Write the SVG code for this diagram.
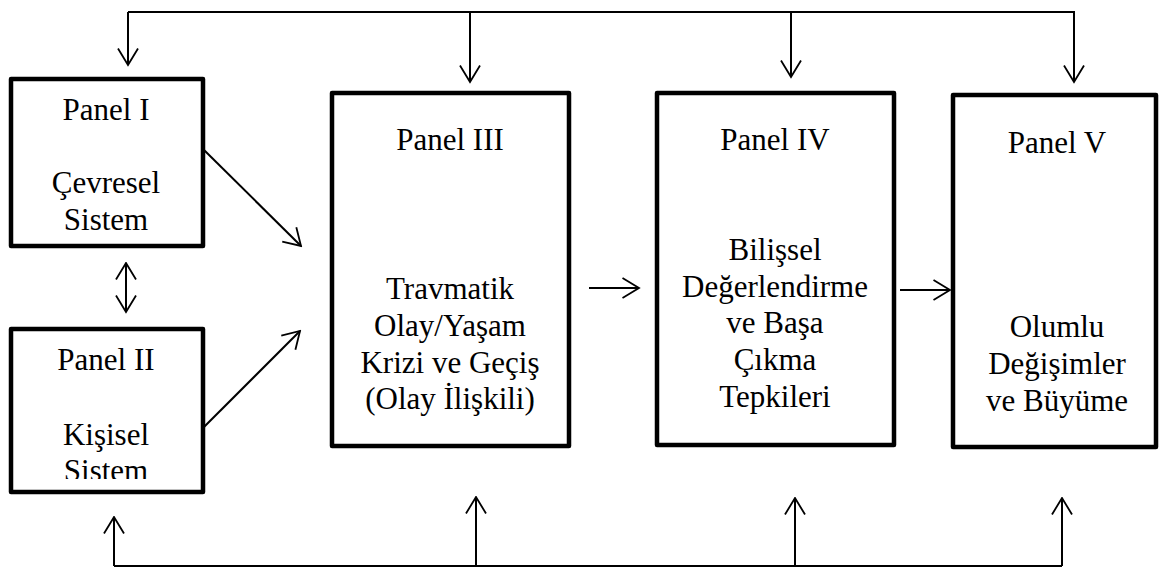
<svg xmlns="http://www.w3.org/2000/svg" width="1159" height="568" viewBox="0 0 1159 568">
<style>
.box{fill:#fff;stroke:#000;stroke-width:4.5;stroke-linejoin:round}
.t{font-family:"Liberation Serif","Times New Roman",serif;font-size:31px;fill:#000;text-anchor:middle}
.c{fill:none;stroke:#000;stroke-width:2}
</style>
<defs>
<marker id="ah" viewBox="0 0 19 22" refX="17.5" refY="11" markerWidth="19" markerHeight="22" markerUnits="userSpaceOnUse" orient="auto-start-reverse">
<path d="M1,1 L17.5,11 L1,21" fill="none" stroke="#000" stroke-width="1.8"/>
</marker>
<clipPath id="clip2"><rect x="11" y="329" width="192" height="150"/></clipPath>
</defs>
<g id="connectors">
<polyline class="c" points="128,12 1075,12"/>
<line class="c" x1="128" y1="12" x2="128" y2="65" marker-end="url(#ah)"/>
<line class="c" x1="470" y1="12" x2="470" y2="82" marker-end="url(#ah)"/>
<line class="c" x1="791" y1="12" x2="791" y2="77" marker-end="url(#ah)"/>
<line class="c" x1="1074" y1="12" x2="1074" y2="82" marker-end="url(#ah)"/>
<polyline class="c" points="114,566 1062,566"/>
<line class="c" x1="114" y1="566" x2="114" y2="517" marker-end="url(#ah)"/>
<line class="c" x1="476" y1="566" x2="476" y2="497" marker-end="url(#ah)"/>
<line class="c" x1="795" y1="566" x2="795" y2="498" marker-end="url(#ah)"/>
<line class="c" x1="1062" y1="566" x2="1062" y2="498" marker-end="url(#ah)"/>
<line class="c" x1="126" y1="263" x2="126" y2="312" marker-start="url(#ah)" marker-end="url(#ah)"/>
<line class="c" x1="204" y1="150" x2="301" y2="246" marker-end="url(#ah)"/>
<line class="c" x1="204" y1="427" x2="300" y2="331" marker-end="url(#ah)"/>
<line class="c" x1="589" y1="288" x2="639" y2="288" marker-end="url(#ah)"/>
<line class="c" x1="900" y1="290" x2="950" y2="290" marker-end="url(#ah)"/>
</g>
<g id="panel1">
<rect class="box" x="11" y="79" width="192" height="167"/>
<text class="t" x="106" y="120">Panel I</text>
<text class="t" x="106" y="193">Çevresel</text>
<text class="t" x="106" y="230">Sistem</text>
</g>
<g id="panel2">
<rect class="box" x="11" y="329" width="192" height="163"/>
<text class="t" x="106" y="370">Panel II</text>
<text class="t" x="106" y="445">Kişisel</text>
<text class="t" x="106" y="481" clip-path="url(#clip2)">Sistem</text>
</g>
<g id="panel3">
<rect class="box" x="332" y="93" width="237" height="353"/>
<text class="t" x="450" y="150">Panel III</text>
<text class="t" x="450" y="299">Travmatik</text>
<text class="t" x="450" y="336">Olay/Yaşam</text>
<text class="t" x="450" y="373">Krizi ve Geçiş</text>
<text class="t" x="450" y="409">(Olay İlişkili)</text>
</g>
<g id="panel4">
<rect class="box" x="657" y="93" width="237" height="352"/>
<text class="t" x="775" y="150">Panel IV</text>
<text class="t" x="775" y="260">Bilişsel</text>
<text class="t" x="775" y="297">Değerlendirme</text>
<text class="t" x="775" y="333">ve Başa</text>
<text class="t" x="775" y="370">Çıkma</text>
<text class="t" x="775" y="407">Tepkileri</text>
</g>
<g id="panel5">
<rect class="box" x="953" y="95" width="203" height="352"/>
<text class="t" x="1057" y="153">Panel V</text>
<text class="t" x="1057" y="337">Olumlu</text>
<text class="t" x="1057" y="374">Değişimler</text>
<text class="t" x="1057" y="411">ve Büyüme</text>
</g>
</svg>
